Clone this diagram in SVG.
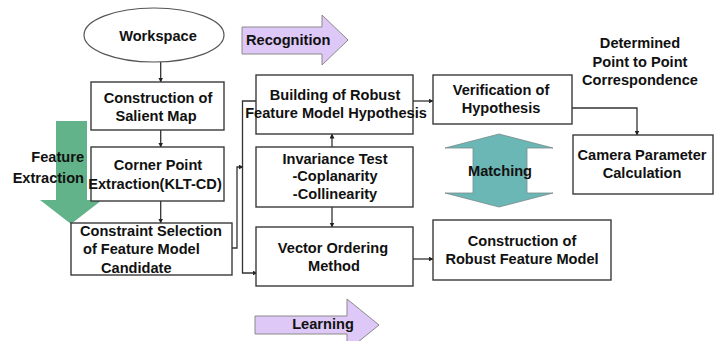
<svg xmlns="http://www.w3.org/2000/svg" width="722" height="341" viewBox="0 0 722 341">
<defs>
<style>
text{font-family:"Liberation Sans",Arial,sans-serif;font-weight:bold;font-size:14.6px;fill:#111;text-anchor:middle}
.box{fill:#fff;stroke:#3a3a3a;stroke-width:1.4}
.conn{fill:none;stroke:#333;stroke-width:1.3}
.purple{fill:#DEC8F7;stroke:#8a8a8a;stroke-width:1}
</style>
<marker id="ah" viewBox="0 0 10 10" refX="9" refY="5" markerWidth="5" markerHeight="5" orient="auto" markerUnits="userSpaceOnUse">
<path d="M0,0 L10,5 L0,10 z" fill="#222"/>
</marker>
</defs>
<rect width="722" height="341" fill="#fff"/>

<g id="feature-extraction">
<path d="M56,121 L87,121 L87,200 L102,200 L71,224 L40,200 L56,200 z" fill="#63B38A"/>
</g>

<g id="recognition">
<path class="purple" d="M242,27 L322,27 L322,15 L348,40 L322,65 L322,54 L242,54 z"/>
<text x="246" y="45" style="text-anchor:start">Recognition</text>
</g>

<g id="learning">
<path class="purple" d="M255,316 L347,316 L347,299 L379,325 L347,351 L347,334 L255,334 z"/>
<text x="323" y="329">Learning</text>
</g>

<g id="matching">
<path d="M499,134 L553,148 L527,148 L527,193 L553,193 L499,207 L445,193 L473,193 L473,148 L445,148 z" fill="#6BB7B5" stroke="#7a8a8a" stroke-width="0.8"/>
</g>

<g id="connectors">
<path class="conn" d="M160.7,62 L160.7,82" marker-end="url(#ah)"/>
<path class="conn" d="M160.7,130 L160.7,147" marker-end="url(#ah)"/>
<path class="conn" d="M160.7,201 L160.7,223" marker-end="url(#ah)"/>
<path class="conn" d="M232,248 L237,248 L237,167 L243,167" marker-end="url(#ah)"/>
<path class="conn" d="M257,101 L242.5,101 L242.5,273 L257,273" marker-end="url(#ah)"/>
<path class="conn" d="M257,101 L256,101"/>
<path class="conn" d="M332,147 L332,134" marker-end="url(#ah)"/>
<path class="conn" d="M332,207 L332,227" marker-end="url(#ah)"/>
<path class="conn" d="M413,101 L433,101" marker-end="url(#ah)"/>
<path class="conn" d="M413,259 L433,259" marker-end="url(#ah)"/>
<path class="conn" d="M572,108 L637,108 L637,135" marker-end="url(#ah)"/>
</g>

<g id="workspace">
<ellipse cx="154" cy="35" rx="70" ry="27" fill="#fff" stroke="#555" stroke-width="1.2"/>
<text x="158" y="41">Workspace</text>
</g>

<g id="salient-map">
<rect class="box" x="91" y="82" width="133" height="48"/>
<text x="158" y="103">Construction of</text>
<text x="156" y="121">Salient Map</text>
</g>

<g id="corner-point">
<rect class="box" x="91" y="147" width="133" height="54"/>
<text x="158" y="170">Corner Point</text>
<text x="155" y="189">Extraction(KLT-CD)</text>
</g>

<g id="constraint-selection">
<rect class="box" x="71" y="223" width="161" height="52"/>
<text x="80" y="236" style="text-anchor:start">Constraint Selection</text>
<text x="83" y="254" style="text-anchor:start">of Feature Model</text>
<text x="101" y="273" style="text-anchor:start">Candidate</text>
</g>

<g id="building">
<rect class="box" x="256" y="75" width="157" height="59"/>
<text x="335" y="100">Building of Robust</text>
<text x="336" y="118">Feature Model Hypothesis</text>
</g>

<g id="invariance">
<rect class="box" x="256" y="147" width="157" height="60"/>
<text x="335" y="164">Invariance Test</text>
<text x="335" y="181">-Coplanarity</text>
<text x="335" y="199">-Collinearity</text>
</g>

<g id="vector-ordering">
<rect class="box" x="256" y="227" width="157" height="59"/>
<text x="333" y="253">Vector Ordering</text>
<text x="334" y="271">Method</text>
</g>

<g id="robust-model">
<rect class="box" x="433" y="220" width="178" height="60"/>
<text x="522" y="246">Construction of</text>
<text x="522" y="264">Robust Feature Model</text>
</g>

<g id="verification">
<rect class="box" x="433" y="75" width="139" height="49"/>
<text x="501" y="95">Verification of</text>
<text x="501" y="113">Hypothesis</text>
</g>

<g id="camera">
<rect class="box" x="573" y="135" width="140" height="59"/>
<text x="642" y="160">Camera Parameter</text>
<text x="642" y="178">Calculation</text>
</g>

<g id="labels">
<text x="84" y="162" style="text-anchor:end">Feature</text>
<text x="84" y="183" style="text-anchor:end">Extraction</text>
<text x="500" y="176">Matching</text>
<text x="640" y="48">Determined</text>
<text x="640" y="67">Point to Point</text>
<text x="640" y="85">Correspondence</text>
</g>
</svg>
